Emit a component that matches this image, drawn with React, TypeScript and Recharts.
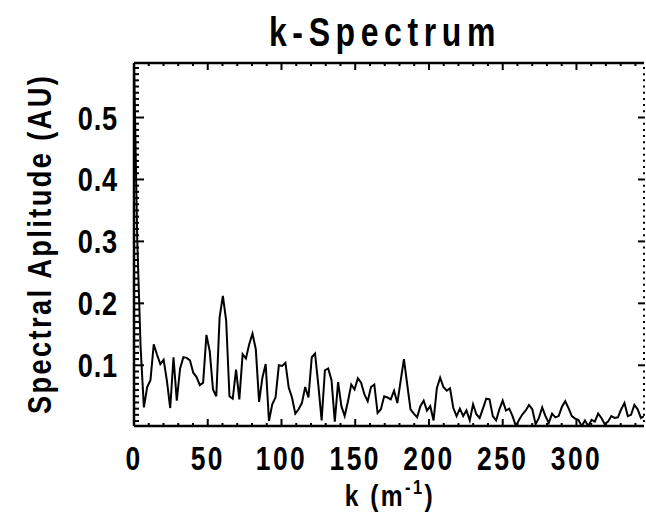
import React from "react";
import { Line, LineChart, ReferenceLine, XAxis, YAxis } from "recharts";

if (typeof document !== "undefined") document.body.style.margin = "0";

// spectral amplitude, one value per k bin (uniform grid, DK apart)
const DK = 2.232;
const AMPLITUDE = [
  0.588, 0.3, 0.13, 0.032, 0.065, 0.076, 0.134, 0.117, 0.102, 0.109,
  0.075, 0.031, 0.113, 0.043, 0.095, 0.113, 0.112, 0.108, 0.088, 0.081,
  0.068, 0.072, 0.149, 0.123, 0.061, 0.05, 0.177, 0.212, 0.172, 0.05,
  0.046, 0.093, 0.045, 0.118, 0.111, 0.134, 0.151, 0.126, 0.041, 0.08,
  0.102, 0.01, 0.037, 0.048, 0.1, 0.099, 0.104, 0.064, 0.048, 0.022,
  0.029, 0.039, 0.065, 0.048, 0.113, 0.119, 0.068, 0.011, 0.092, 0.095,
  0.076, 0.009, 0.073, 0.034, 0.018, 0.042, 0.069, 0.061, 0.079, 0.072,
  0.053, 0.042, 0.065, 0.069, 0.023, 0.029, 0.05, 0.048, 0.045, 0.059,
  0.039, 0.075, 0.11, 0.069, 0.029, 0.022, 0.016, 0.034, 0.043, 0.027,
  0.034, 0.011, 0.063, 0.08, 0.065, 0.059, 0.063, 0.031, 0.018, 0.03,
  0.018, 0.027, 0.011, 0.037, 0.021, 0.015, 0.03, 0.046, 0.045, 0.018,
  0.011, 0.029, 0.043, 0.027, 0.03, 0.018, 0.002, 0.012, 0.021, 0.027,
  0.036, 0.029, 0.005, 0.015, 0.032, 0.018, 0.007, 0.022, 0.016, 0.018,
  0.033, 0.042, 0.031, 0.018, 0.014, 0.012, 0.002, 0.011, 0.002, 0.012,
  0.009, 0.022, 0.015, 0.005, 0.009, 0.018, 0.015, 0.016, 0.029, 0.039,
  0.018, 0.02, 0.036, 0.029, 0.015, 0.018,
];

const X_DOMAIN: [number, number] = [0, 345.8];
const Y_DOMAIN: [number, number] = [0.002, 0.588];
const X_MAJOR = [0, 50, 100, 150, 200, 250, 300];
const Y_MAJOR = [0.1, 0.2, 0.3, 0.4, 0.5];
const X_MINOR_STEP = 10;
const Y_MINOR_STEP = 0.01;

const xTicks = Array.from({ length: 35 }, (_, i) => i * X_MINOR_STEP);
const yTicks = Array.from({ length: 58 }, (_, i) =>
  Math.round((i + 1) * Y_MINOR_STEP * 100) / 100
);

const data = AMPLITUDE.map((amp, i) => ({ k: i * DK, amp }));

// plot box
const W = 646;
const H = 513;
const TOP = 63;
const LEFT = 134;
const RIGHT = 2;
const BOTTOM = 87;
const PLOT_W = W - LEFT - RIGHT;
const PLOT_H = H - TOP - BOTTOM;

const FONT = "'Liberation Sans', Arial, Helvetica, sans-serif";

const NText: React.FC<{
  x: number;
  y: number;
  size: number;
  spacing?: number;
  anchor?: "start" | "middle" | "end";
  rotate?: boolean;
  children: React.ReactNode;
}> = ({ x, y, size, spacing = 0, anchor = "middle", rotate, children }) => (
  <text
    transform={`translate(${x} ${y})${rotate ? " rotate(-90)" : ""} scale(0.8 1)`}
    textAnchor={anchor}
    fontFamily={FONT}
    fontWeight="bold"
    fontSize={size}
    letterSpacing={spacing}
    fill="#000"
  >
    {children}
  </text>
);

const isMajorX = (v: number) => X_MAJOR.includes(Math.round(v));
const isMajorY = (v: number) => Y_MAJOR.some((m) => Math.abs(m - v) < 1e-6);

// bottom tick + matching top tick
const XTick = (props: any) => {
  const { x, y, payload } = props;
  const major = isMajorX(payload.value);
  const len = major ? 7 : 3;
  return (
    <g>
      <line x1={x} x2={x} y1={y} y2={y - len} stroke="#000" strokeWidth={2} />
      <line x1={x} x2={x} y1={y - PLOT_H} y2={y - PLOT_H + len} stroke="#000" strokeWidth={2} />
      {major && (
        <NText x={x} y={y + 44} size={33} spacing={3}>
          {payload.value}
        </NText>
      )}
    </g>
  );
};

// left tick + matching right tick
const YTick = (props: any) => {
  const { x, y, payload } = props;
  const major = isMajorY(payload.value);
  return (
    <g>
      <line x1={x} x2={x + (major ? 10 : 5)} y1={y} y2={y} stroke="#000" strokeWidth={2} />
      <line
        x1={x + PLOT_W + 1}
        x2={x + PLOT_W + 1 - (major ? 7 : 2)}
        y1={y}
        y2={y}
        stroke="#000"
        strokeWidth={2}
      />
      {major && (
        <NText x={x - 16} y={y + 12} size={34} spacing={1} anchor="end">
          {payload.value.toFixed(1)}
        </NText>
      )}
    </g>
  );
};

export default function App() {
  return (
    <LineChart
      width={W}
      height={H}
      data={data}
      margin={{ top: TOP, right: RIGHT, bottom: 0, left: 0 }}
    >
      <XAxis
        dataKey="k"
        type="number"
        domain={X_DOMAIN}
        allowDataOverflow
        ticks={xTicks}
        interval={0}
        tick={<XTick />}
        tickSize={0}
        tickMargin={0}
        height={BOTTOM}
        axisLine={{ stroke: "#000", strokeWidth: 2.5 }}
        label={{
          content: () => (
            <text
              transform="translate(390 506) scale(0.82 1)"
              textAnchor="middle"
              fontFamily={FONT}
              fontWeight="bold"
              fontSize={30}
              letterSpacing={3}
              fill="#000"
            >
              k (m
              <tspan dy={-12} fontSize={20}>-1</tspan>
              <tspan dy={12}>)</tspan>
            </text>
          ),
        }}
      />
      <YAxis
        type="number"
        domain={Y_DOMAIN}
        allowDataOverflow
        ticks={yTicks}
        interval={0}
        tick={<YTick />}
        tickSize={0}
        tickMargin={0}
        width={LEFT}
        axisLine={{ stroke: "#000", strokeWidth: 2.5 }}
        label={{
          content: () => (
            <NText x={51} y={244} size={34} spacing={3} rotate>
              Spectral Aplitude (AU)
            </NText>
          ),
        }}
      />
      <ReferenceLine
        y={Y_DOMAIN[1]}
        stroke="#000"
        strokeWidth={2.5}
        ifOverflow="visible"
        label={{
          content: () => (
            <NText x={385} y={46} size={40} spacing={7}>
              k-Spectrum
            </NText>
          ),
        }}
      />
      <Line
        type="linear"
        dataKey="amp"
        stroke="#000"
        strokeWidth={2}
        dot={false}
        isAnimationActive={false}
      />
    </LineChart>
  );
}
